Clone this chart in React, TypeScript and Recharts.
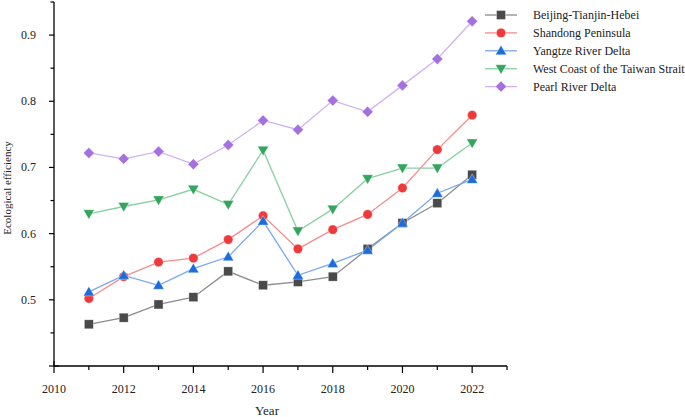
import React from "react";
import { LineChart, Line, XAxis, YAxis } from "recharts";

// ─── Data ───────────────────────────────────────────────────────────

const years = [2011, 2012, 2013, 2014, 2015, 2016, 2017, 2018, 2019, 2020, 2021, 2022];

const beijingTianjinHebei = [0.463, 0.473, 0.493, 0.504, 0.543, 0.522, 0.527, 0.535, 0.577, 0.616, 0.646, 0.689];
const shandongPeninsula = [0.502, 0.535, 0.557, 0.563, 0.591, 0.627, 0.577, 0.606, 0.629, 0.669, 0.727, 0.779];
const yangtzeRiverDelta = [0.512, 0.537, 0.522, 0.547, 0.565, 0.619, 0.537, 0.555, 0.575, 0.616, 0.661, 0.682];
const westCoastTaiwanStrait = [0.63, 0.641, 0.651, 0.667, 0.644, 0.726, 0.604, 0.637, 0.683, 0.699, 0.699, 0.737];
const pearlRiverDelta = [0.722, 0.713, 0.724, 0.705, 0.734, 0.771, 0.757, 0.801, 0.784, 0.824, 0.864, 0.921];

const xTicks = [2010, 2011, 2012, 2013, 2014, 2015, 2016, 2017, 2018, 2019, 2020, 2021, 2022, 2023];
const yTicks = [0.4, 0.45, 0.5, 0.55, 0.6, 0.65, 0.7, 0.75, 0.8, 0.85, 0.9, 0.95];

type Shape = "square" | "circle" | "triangle" | "triangleDown" | "diamond";

const series: { key: string; name: string; values: number[]; marker: string; line: string; shape: Shape }[] = [
  { key: "bth", name: "Beijing-Tianjin-Hebei", values: beijingTianjinHebei, marker: "#4a4a4a", line: "#8c8c8c", shape: "square" },
  { key: "sd", name: "Shandong Peninsula", values: shandongPeninsula, marker: "#ee3a3a", line: "#f48d8d", shape: "circle" },
  { key: "yrd", name: "Yangtze River Delta", values: yangtzeRiverDelta, marker: "#1c6ddc", line: "#78a8ee", shape: "triangle" },
  { key: "wc", name: "West Coast of the Taiwan Strait", values: westCoastTaiwanStrait, marker: "#34a55c", line: "#88d0a2", shape: "triangleDown" },
  { key: "prd", name: "Pearl River Delta", values: pearlRiverDelta, marker: "#a571e0", line: "#cfb2f0", shape: "diamond" },
];

const chartData = years.map((year, i) => {
  const row: Record<string, number> = { year };
  series.forEach((s) => {
    row[s.key] = s.values[i];
  });
  return row;
});

const FONT = "'Liberation Serif', 'Times New Roman', serif";
const textStyle = { fontFamily: FONT, fontSize: 12, fill: "#222" };

// ─── Markers ────────────────────────────────────────────────────────

function Marker({ cx, cy, shape, color }: { cx: number; cy: number; shape: Shape; color: string }) {
  const stroke = { stroke: "#ffffff", strokeWidth: 0.6, strokeOpacity: 0.6 };
  switch (shape) {
    case "square":
      return <rect x={cx - 4.5} y={cy - 4.5} width={9} height={9} fill={color} {...stroke} />;
    case "circle":
      return <circle cx={cx} cy={cy} r={4.7} fill={color} {...stroke} />;
    case "triangle":
      return <path d={`M${cx},${cy - 5.5} L${cx + 5.5},${cy + 4} L${cx - 5.5},${cy + 4} Z`} fill={color} {...stroke} />;
    case "triangleDown":
      return <path d={`M${cx},${cy + 5.5} L${cx + 5.5},${cy - 4} L${cx - 5.5},${cy - 4} Z`} fill={color} {...stroke} />;
    default:
      return <path d={`M${cx},${cy - 5.5} L${cx + 5.5},${cy} L${cx},${cy + 5.5} L${cx - 5.5},${cy} Z`} fill={color} {...stroke} />;
  }
}

// ─── Axis ticks ─────────────────────────────────────────────────────

function XTick({ x, y, payload }: any) {
  const major = payload.value % 2 === 0;
  return (
    <g>
      <line x1={x} x2={x} y1={y - (payload.value === 2010 ? 5 : 0)} y2={y + (major ? 7 : 4)} stroke="#000" strokeWidth={1.2} />
      {major && payload.value !== 2023 && (
        <text x={x} y={y + 27} textAnchor="middle" style={textStyle}>
          {payload.value}
        </text>
      )}
    </g>
  );
}

function YTick({ x, y, payload }: any) {
  const v = Math.round(payload.value * 100);
  const major = v % 10 === 0;
  const showLabel = major && v !== 40;
  return (
    <g>
      <line x1={x - (major ? 5 : 3.5)} x2={x + (v === 40 ? 5 : 0)} y1={y} y2={y} stroke="#000" strokeWidth={1.2} />
      {showLabel && (
        <text x={x - 18} y={y + 4} textAnchor="end" style={textStyle}>
          {(payload.value as number).toFixed(1)}
        </text>
      )}
    </g>
  );
}

// ─── Legend ─────────────────────────────────────────────────────────

function LegendBox() {
  return (
    <svg width={210} height={100} style={{ position: "absolute", left: 480, top: 0 }}>
      {series.map((s, i) => {
        const cy = 15 + i * 17.9;
        return (
          <g key={s.key}>
            <line x1={5} x2={37} y1={cy} y2={cy} stroke={s.line} strokeWidth={1.3} />
            <Marker cx={21} cy={cy} shape={s.shape} color={s.marker} />
            <text x={53} y={cy + 4} style={textStyle}>
              {s.name}
            </text>
          </g>
        );
      })}
    </svg>
  );
}

// ─── Chart ──────────────────────────────────────────────────────────

export default function App() {
  return (
    <div style={{ position: "absolute", left: 0, top: 0, width: 685, height: 417, background: "#fff", fontFamily: FONT }}>
      <LineChart width={685} height={417} data={chartData} margin={{ top: 2, right: 178, left: 0, bottom: 0 }}>
        <XAxis
          dataKey="year"
          type="number"
          domain={[2010, 2023]}
          ticks={xTicks}
          interval={0}
          height={51}
          tickLine={false}
          tickSize={0}
          tickMargin={0}
          tick={<XTick />}
          axisLine={{ stroke: "#000", strokeWidth: 1.3 }}
          label={{
            content: () => (
              <text x={267} y={415} textAnchor="middle" style={{ ...textStyle, fontSize: 13 }}>
                Year
              </text>
            ),
          }}
        />
        <YAxis
          type="number"
          domain={[0.4, 0.95]}
          ticks={yTicks}
          interval={0}
          width={54}
          tickLine={false}
          tickSize={0}
          tickMargin={0}
          tick={<YTick />}
          axisLine={{ stroke: "#000", strokeWidth: 1.3 }}
          label={{
            content: () => (
              <text x={0} y={0} transform="translate(11,188) rotate(-90)" textAnchor="middle" style={{ ...textStyle, fontSize: 11 }}>
                Ecological efficiency
              </text>
            ),
          }}
        />
        {series.map((s) => (
          <Line
            key={s.key}
            dataKey={s.key}
            name={s.name}
            type="linear"
            stroke={s.line}
            strokeWidth={1.3}
            isAnimationActive={false}
            activeDot={false}
            dot={(p: any) => <Marker key={`${s.key}-${p.index}`} cx={p.cx} cy={p.cy} shape={s.shape} color={s.marker} />}
          />
        ))}
      </LineChart>
      <LegendBox />
    </div>
  );
}
